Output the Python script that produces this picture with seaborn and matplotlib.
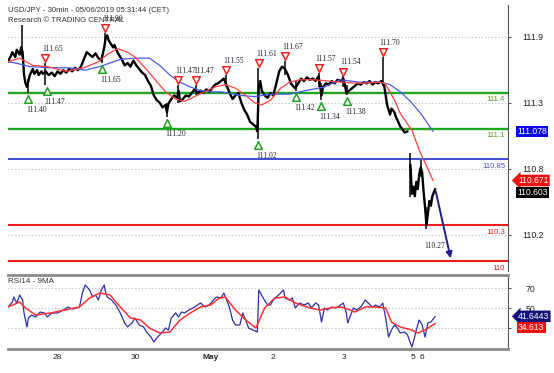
import numpy as np
import matplotlib
matplotlib.use("Agg")
import matplotlib.pyplot as plt
import matplotlib.transforms as mtransforms
import seaborn as sns

# x axis = 30-minute bar number, counted from the first bar on the chart

# price path (close)
price_bar = [0, 2, 3, 5, 6, 8, 9, 10, 11, 12,
             13, 14, 15, 17, 18, 20, 21, 23, 24, 26,
             27, 28, 30, 32, 34, 36, 38, 40, 42, 44,
             46, 48, 50, 52, 54, 56, 58, 60, 62, 64,
             66, 67, 68, 69, 70, 72, 73, 75, 76, 78,
             80, 82, 84, 86, 88, 90, 92, 94, 96, 98,
             100, 102, 104, 106, 108, 109, 110, 112, 114, 116,
             117, 118, 120, 122, 124, 126, 128, 130, 132, 134,
             136, 138, 140, 142, 144, 146, 148, 150, 152, 154,
             156, 158, 160, 162, 164, 166, 168, 170, 171, 172,
             173, 174, 176, 178, 180, 182, 184, 186, 188, 190,
             192, 194, 196, 197, 199, 201, 203, 205, 207, 209,
             211, 213, 215, 216, 218, 220, 222, 224, 226, 228,
             230, 231, 232, 234, 236, 238, 240, 242, 244, 246,
             248, 250, 252, 254, 256, 258, 259, 260, 262, 263,
             265, 266, 268, 269, 271, 272, 274, 276, 277, 278,
             279, 280, 281, 282, 283, 284, 285, 286, 287, 288,
             289, 290, 291, 292, 293]
price_close = [111.66, 111.71, 111.74, 111.70, 111.76, 111.72, 111.78, 111.74, 111.55, 111.48,
               111.45, 111.50, 111.55, 111.60, 111.56, 111.59, 111.55, 111.58, 111.56, 111.58,
               111.56, 111.55, 111.57, 111.54, 111.58, 111.56, 111.59, 111.57, 111.60, 111.58,
               111.61, 111.59, 111.62, 111.68, 111.74, 111.72, 111.70, 111.73, 111.69, 111.67,
               111.78, 111.86, 111.88, 111.84, 111.82, 111.78, 111.80, 111.74, 111.72, 111.68,
               111.63, 111.65, 111.62, 111.67, 111.63, 111.60, 111.57, 111.55, 111.50, 111.46,
               111.38, 111.34, 111.32, 111.28, 111.30, 111.24, 111.31, 111.35, 111.38, 111.36,
               111.42, 111.33, 111.35, 111.38, 111.37, 111.40, 111.43, 111.40, 111.42, 111.40,
               111.43, 111.41, 111.44, 111.47, 111.48, 111.50, 111.52, 111.46, 111.40, 111.35,
               111.38, 111.40, 111.32, 111.26, 111.22, 111.16, 111.14, 111.12, 111.08, 111.45,
               111.50, 111.42, 111.38, 111.36, 111.40, 111.38, 111.48, 111.58, 111.62, 111.60,
               111.55, 111.48, 111.45, 111.44, 111.48, 111.52, 111.50, 111.53, 111.51, 111.52,
               111.50, 111.54, 111.38, 111.45, 111.48, 111.47, 111.50, 111.48, 111.51, 111.50,
               111.52, 111.47, 111.40, 111.42, 111.44, 111.46, 111.48, 111.47, 111.49, 111.48,
               111.50, 111.47, 111.49, 111.48, 111.50, 111.46, 111.38, 111.30, 111.22, 111.27,
               111.24, 111.20, 111.15, 111.12, 111.09, 111.07, 111.08, 110.80, 110.56, 110.62,
               110.54, 110.66, 110.60, 110.72, 110.78, 110.74, 110.58, 110.45, 110.30, 110.40,
               110.50, 110.46, 110.54, 110.57, 110.60]

# long wicks
wick_bar = [9.5, 14, 25.5, 64.5, 66.5, 109, 116.5, 129, 149.5, 171.5,
            190, 197.5, 213, 214.5, 230, 232.5, 257, 276, 283.5, 287]
wick_high = [111.97, 111.52, 111.65, 111.72, 111.90, 111.32, 111.47, 111.47, 111.55, 111.61,
             111.67, 111.50, 111.57, 111.48, 111.54, 111.47, 111.70, 110.90, 110.84, 110.45]
wick_low = [111.70, 111.40, 111.47, 111.65, 111.80, 111.20, 111.32, 111.38, 111.45, 111.02,
            111.55, 111.42, 111.45, 111.34, 111.45, 111.38, 111.46, 110.53, 110.70, 110.27]

# moving averages
fast_ma_bar = [0, 8, 17, 27, 40, 52, 62, 68, 75, 82,
               87, 94, 101, 108, 115, 121, 128, 135, 142, 149,
               156, 163, 169, 174, 180, 187, 193, 200, 210, 228,
               241, 255, 258.5, 262, 265.5, 269, 273, 277, 282.5, 287.5,
               291.5]
fast_ma = [111.66, 111.69, 111.63, 111.62, 111.58, 111.61, 111.66, 111.72, 111.77, 111.74,
           111.70, 111.61, 111.51, 111.41, 111.35, 111.33, 111.37, 111.41, 111.45, 111.47,
           111.44, 111.38, 111.32, 111.30, 111.34, 111.44, 111.49, 111.51, 111.51, 111.49,
           111.48, 111.49, 111.48, 111.41, 111.33, 111.23, 111.16, 111.09, 110.91, 110.78,
           110.67]
slow_ma_bar = [0, 5, 15, 29, 42, 53, 63, 70, 77, 87,
               97, 104, 111, 118, 125, 132, 139, 146, 159, 169,
               180, 193, 204, 213, 217, 228, 241, 255, 262, 269,
               276, 283, 291.5]
slow_ma = [111.66, 111.65, 111.62, 111.61, 111.61, 111.59, 111.62, 111.65, 111.68, 111.69,
           111.69, 111.63, 111.55, 111.49, 111.45, 111.42, 111.41, 111.41, 111.38, 111.37,
           111.39, 111.39, 111.42, 111.44, 111.45, 111.51, 111.49, 111.49, 111.47, 111.41,
           111.33, 111.23, 111.08]

# swing highs / lows
top_bar = [25.5, 66.5, 116.5, 129, 149.5, 172, 190, 213, 230, 257]
top_value = [111.65, 111.90, 111.47, 111.47, 111.55, 111.61, 111.67, 111.57, 111.54, 111.70]
bottom_bar = [14, 26.5, 64.5, 109, 171.5, 197.5, 214.5, 232.5]
bottom_value = [111.40, 111.47, 111.65, 111.20, 111.02, 111.42, 111.34, 111.38]
last_low_bar = 287
last_low = 110.27

# key levels
level_value = [111.4, 111.1, 110.85, 110.3, 110.0]
level_text = ["111.4", "111.1", "110.85", "110.3", "110"]

# target arrow
target_bar = 304
target_price = 110.0

# RSI 14 and its 9 period average
rsi_bar = [0, 3, 4, 6, 8, 10, 11, 12, 13, 14,
           16, 19, 22, 25, 27, 30, 34, 38, 41, 44,
           47, 49, 51, 53, 56, 58, 60, 62, 64, 66,
           67, 68, 71, 74, 77, 80, 82, 85, 87, 90,
           93, 95, 98, 100, 102, 104, 106, 108, 110, 112,
           115, 117, 119, 121, 124, 127, 130, 132, 135, 138,
           141, 143, 146, 148, 150, 152, 154, 156, 159, 161,
           163, 165, 171, 172, 175, 178, 180, 182, 184, 187,
           189, 190, 193, 195, 197, 200, 203, 206, 208, 211,
           213, 215, 217, 219, 222, 225, 228, 230, 232, 233,
           235, 237, 239, 242, 245, 247, 250, 252, 255, 257,
           259, 261, 263, 265, 267, 269, 272, 274, 277, 278,
           280, 282, 284, 286, 288, 290, 293]
rsi_value = [51, 56, 61, 55, 63, 58, 45, 38, 31, 40,
             43, 41, 46, 45, 41, 45, 45, 48, 51, 49,
             50, 51, 65, 73, 68, 61, 63, 58, 68, 73,
             65, 61, 58, 53, 45, 35, 31, 35, 40, 33,
             31, 26, 21, 16, 20, 23, 26, 30, 28, 40,
             45, 41, 46, 45, 48, 50, 53, 55, 51, 53,
             58, 61, 60, 65, 58, 50, 38, 33, 33, 45,
             38, 30, 26, 68, 60, 53, 53, 58, 61, 65,
             68, 60, 58, 60, 50, 55, 53, 55, 50, 55,
             53, 36, 50, 48, 51, 50, 53, 55, 45, 35,
             43, 50, 48, 51, 58, 55, 51, 53, 51, 55,
             40, 21, 28, 33, 30, 25, 26, 23, 11, 16,
             28, 38, 33, 21, 35, 36, 41.6]
rsi_ma_bar = [0, 8, 12, 19, 29, 39, 49, 56, 63, 70,
              77, 84, 91, 97, 104, 111, 118, 125, 132, 139,
              145, 149, 156, 163, 170, 176, 183, 190, 197, 207,
              214, 221, 228, 231, 238, 245, 252, 259, 263, 269,
              277, 281, 286, 293]
rsi_ma = [51, 56, 50, 43, 45, 48, 51, 60, 65, 63,
          51, 40, 38, 30, 25, 26, 38, 45, 51, 53,
          60, 61, 48, 38, 30, 50, 60, 61, 55, 50,
          48, 50, 51, 50, 46, 51, 51, 50, 36, 31,
          28, 25, 28, 34.6]

# last values shown on the right edge
last_slow_ma = 111.078
last_fast_ma = 110.671
last_price = 110.603
last_rsi = 41.6443
last_rsi_ma = 34.613

# axis ticks
day_bar = [29.5, 83, 131.7, 179, 227.7, 275, 281]
day_label = ["28", "30", "May", "2", "3", "5", "6"]
price_ticks = [111.87, 111.32, 110.77, 110.22]
price_tick_labels = ["111.9", "111.3", "110.8", "110.2"]
rsi_ticks = [70, 50, 30]
rsi_tick_labels = ["70", "50", ""]

# styles
level_colors = ["#1fa51f", "#1fa51f", "#1a2fd0", "#ee1c1c", "#ee1c1c"]
level_text_colors = ["#5a9e2a", "#5a9e2a", "#5858e0", "#ee2222", "#ee2222"]
level_widths = [1.7, 1.7, 1.2, 1.5, 1.5]

sns.set_style("white")
plt.rcParams['font.family'] = ['Liberation Sans', 'DejaVu Sans']

W, H = 554, 373
fig = plt.figure(figsize=(W / 100, H / 100), dpi=100)
ax = fig.add_axes([8 / W, 1 - 271 / H, 500 / W, 266 / H])
axr = fig.add_axes([8 / W, 1 - 349 / H, 500 / W, 74 / H])

xmax = 342.9

# ---- price panel ----
ax.set_xlim(0, xmax)
ax.set_ylim(109.917, 112.133)
for s in ['left', 'top', 'bottom']:
    ax.spines[s].set_visible(False)
ax.spines['right'].set_color('#555555')
ax.spines['right'].set_linewidth(0.8)
ax.yaxis.tick_right()
ax.set_yticks(price_ticks, price_tick_labels)
ax.tick_params(axis='y', direction='out', length=2.5, width=0.8, color='#555555',
               labelsize=6.3, pad=8, labelcolor='#222222')
ax.set_xticks([])

for t in price_ticks:
    ax.axhline(t, color='#b8b8b8', ls=(0, (1, 2)), lw=0.8, zorder=0)

for v, c, w in zip(level_value, level_colors, level_widths):
    ax.axhline(v, color=c, lw=w, zorder=1)
for v, txt, c in zip(level_value, level_text, level_text_colors):
    ax.annotate(txt, xy=(1, v), xycoords=('axes fraction', 'data'), xytext=(-3, -7),
                textcoords='offset pixels', ha='right', va='center', fontsize=5.6, color=c)

session = (np.array(price_bar) > 275).astype(int)
sns.lineplot(x=price_bar, y=price_close, units=session, estimator=None, color='black',
             linewidth=1.7, ax=ax, legend=False, zorder=3)
ax.vlines(wick_bar, wick_low, wick_high, color='black', lw=1.1, zorder=3)

sns.lineplot(x=slow_ma_bar, y=slow_ma, color='#4a5ae8', linewidth=0.9, ax=ax, zorder=4)
sns.lineplot(x=fast_ma_bar, y=fast_ma, color='#ff4040', linewidth=0.9, ax=ax, zorder=4)

up = mtransforms.offset_copy(ax.transData, fig=fig, x=0, y=4.5, units='dots')
down = mtransforms.offset_copy(ax.transData, fig=fig, x=0, y=-6, units='dots')
ax.scatter(top_bar, top_value, marker='v', s=30, facecolors='white', edgecolors='#ee2020',
           linewidths=1.1, transform=up, zorder=5, clip_on=False)
ax.scatter(bottom_bar, bottom_value, marker='^', s=30, facecolors='white', edgecolors='#22a022',
           linewidths=1.1, transform=down, zorder=5, clip_on=False)
for b, v in zip(top_bar, top_value):
    ax.annotate(f"{v:.2f}", xy=(b, v), xytext=(-3, 14), textcoords='offset pixels',
                ha='left', va='center', fontsize=5.5, family='Liberation Serif',
                color='#222233', zorder=6, annotation_clip=False)
for b, v in zip(bottom_bar + [last_low_bar], bottom_value + [last_low]):
    ax.annotate(f"{v:.2f}", xy=(b, v), xytext=(-2, -17), textcoords='offset pixels',
                ha='left', va='center', fontsize=5.5, family='Liberation Serif',
                color='#222233', zorder=6)

ax.annotate('', xy=(target_bar, target_price), xytext=(price_bar[-1], price_close[-1]),
            arrowprops=dict(arrowstyle='-|>', color='#1c1c8c', lw=1.4, mutation_scale=9),
            zorder=6)

box_font = dict(fontsize=6.2, color='white', va='center', ha='left',
                textcoords='offset pixels', annotation_clip=False)
ax.annotate(f"{last_slow_ma:.3f}", xy=(1, last_slow_ma), xycoords=('axes fraction', 'data'),
            xytext=(9, 0), bbox=dict(boxstyle='square,pad=0.15', fc='#0a0ae8', ec='none'),
            **box_font)
ax.annotate(f"{last_fast_ma:.3f}", xy=(1, last_fast_ma), xycoords=('axes fraction', 'data'),
            xytext=(10, 0), bbox=dict(boxstyle='larrow,pad=0.15', fc='#ee1010', ec='none'),
            **box_font)
ax.annotate(f"{last_price:.3f}", xy=(1, last_price), xycoords=('axes fraction', 'data'),
            xytext=(9, -4), bbox=dict(boxstyle='square,pad=0.15', fc='black', ec='none'),
            **box_font)

fig.text(8 / W, 1 - 11 / H, "USD/JPY - 30min - 05/06/2019 05:31:44 (CET)",
         fontsize=5.6, color='#333333', va='center')
fig.text(8 / W, 1 - 20 / H, "Research \u00a9 TRADING CENTRAL",
         fontsize=5.6, color='#333333', va='center')

# ---- RSI panel ----
axr.set_xlim(0, xmax)
axr.set_ylim(9, 83)
axr.spines['left'].set_visible(False)
for s in ['top', 'bottom']:
    axr.spines[s].set_color('#8a8a8a')
    axr.spines[s].set_linewidth(2)
axr.spines['right'].set_color('#555555')
axr.spines['right'].set_linewidth(0.8)
axr.yaxis.tick_right()
axr.set_yticks(rsi_ticks, rsi_tick_labels)
axr.tick_params(axis='y', direction='out', length=2.5, width=0.8, color='#555555',
                labelsize=6.3, pad=10, labelcolor='#222222')
for t in rsi_ticks:
    axr.axhline(t, color='#b8b8b8', ls=(0, (1, 2)), lw=0.8, zorder=0)

sns.lineplot(x=rsi_bar, y=rsi_value, color='#2f2fa8', linewidth=0.9, ax=axr)
sns.lineplot(x=rsi_ma_bar, y=rsi_ma, color='#ff3030', linewidth=1.1, ax=axr)
axr.text(0.0, 0.91, "RSI14 - 9MA", transform=axr.transAxes, fontsize=5.8,
         color='#333333', va='center')

axr.set_xticks(day_bar, day_label)
axr.tick_params(axis='x', direction='out', length=3, width=0.8, color='#555555',
                labelsize=6, pad=0.5, labelcolor='#222222')
shift = mtransforms.ScaledTranslation(2 / 100, 0, fig.dpi_scale_trans)
for lab in axr.get_xticklabels():
    lab.set_horizontalalignment('left')
    lab.set_transform(lab.get_transform() + shift)
    if lab.get_text() == "May":
        lab.set_fontweight('bold')
axr.set_xlabel('')
axr.set_ylabel('')
ax.set_xlabel('')
ax.set_ylabel('')

box_font_r = dict(fontsize=6.2, color='white', va='center', ha='left',
                  textcoords='offset pixels', annotation_clip=False)
axr.annotate(f"{last_rsi:.4f}", xy=(1, last_rsi), xycoords=('axes fraction', 'data'),
             xytext=(10, 0), bbox=dict(boxstyle='larrow,pad=0.15', fc='#12127a', ec='none'),
             **box_font_r)
axr.annotate(f"{last_rsi_ma:.3f}", xy=(1, last_rsi_ma), xycoords=('axes fraction', 'data'),
             xytext=(10, -4), bbox=dict(boxstyle='square,pad=0.15', fc='#ee1010', ec='none'),
             **box_font_r)

fig.savefig("out.png", dpi=100)
